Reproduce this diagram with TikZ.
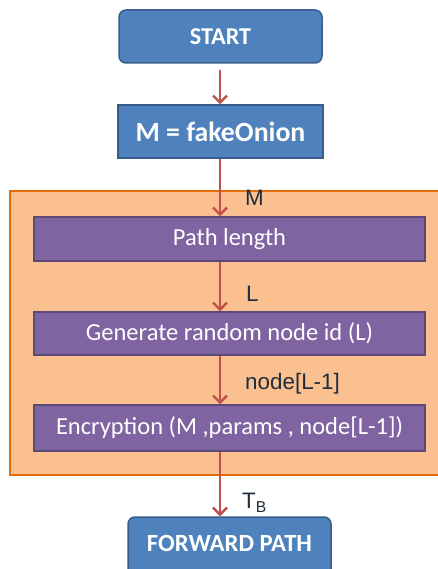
\documentclass[tikz,border=0pt]{standalone}
\usepackage{fontspec}
\setmainfont{Carlito}
\newfontfamily\labelfont{Liberation Sans}
\usetikzlibrary{arrows.meta}
\definecolor{bluefill}{HTML}{4F81BD}
\definecolor{blueedge}{HTML}{385D8A}
\definecolor{purplefill}{HTML}{8064A2}
\definecolor{purpleedge}{HTML}{5C4776}
\definecolor{orangefill}{HTML}{FAC090}
\definecolor{orangeedge}{HTML}{E46C0A}
\definecolor{arrowred}{HTML}{C0504D}
\definecolor{labeltext}{HTML}{1F2D3D}
\tikzset{
  bluebox/.style={draw=blueedge, fill=bluefill, line width=1.5pt, text=white, font=\bfseries\fontsize{24.2}{28}\selectfont, inner sep=0pt},
  purplebox/.style={draw=purpleedge, fill=purplefill, line width=1.5pt, text=white, font=\fontsize{24.5}{28}\selectfont, inner sep=0pt, minimum width=391pt},
  flow/.style={draw=arrowred, line width=2.4pt, -{Straight Barb[length=7pt,width=14pt]}},
  lbl/.style={anchor=west, text=labeltext, font=\labelfont\fontsize{22.4}{26}\selectfont, inner sep=0pt},
}
\begin{document}
\begin{tikzpicture}[x=1pt,y=-1pt]
\useasboundingbox (0,0) rectangle (437,569);
\fill[white] (0,0) rectangle (437,569);
% orange container
\draw[orangeedge, fill=orangefill, line width=2pt] (10,191) rectangle (450,475);
% nodes
\node[bluebox, rounded corners=7pt, minimum width=203pt, minimum height=53pt] (start) at (220.5,36.5) {START};
\node[bluebox, minimum width=205pt, minimum height=53pt, font=\bfseries\fontsize{27.8}{32}\selectfont] (m) at (220.5,131.5) {M = fakeOnion};
\node[purplebox, minimum height=44pt] (path) at (229.5,239) {Path length};
\node[purplebox, minimum height=43pt] (gen) at (229.5,333.5) {Generate random node id (L)};
\node[purplebox, minimum height=46pt] (enc) at (229.5,428) {Encryption (M ,params , node[L-1])};
\node[bluebox, rounded corners=7pt, minimum width=203pt, minimum height=62pt] (fwd) at (229.5,548) {};
\node[text=white, font=\bfseries\fontsize{24.7}{28}\selectfont, inner sep=0pt] (fwdtext) at (229.5,543) {FORWARD PATH};
% arrow axis
\coordinate (ax) at (220,0);
\draw[flow] (start.south -| ax) ++(0,6) coordinate (s1) -- (m.north -| ax);
\draw[flow] (m.south -| ax) -- (path.north -| ax);
\draw[flow] (path.south -| ax) -- (gen.north -| ax);
\draw[flow] (gen.south -| ax) -- (enc.north -| ax);
\draw[flow] (enc.south -| ax) -- (fwd.north -| ax);
% labels
\node[lbl] (lm) at (245,198) {M};
\node[lbl] (ll) at (246,294) {L};
\node[lbl] (ln) at (245,384) {node[L-1]};
\node[lbl] (lt) at (242,503) {T\textsubscript{B}};
\end{tikzpicture}
\end{document}
